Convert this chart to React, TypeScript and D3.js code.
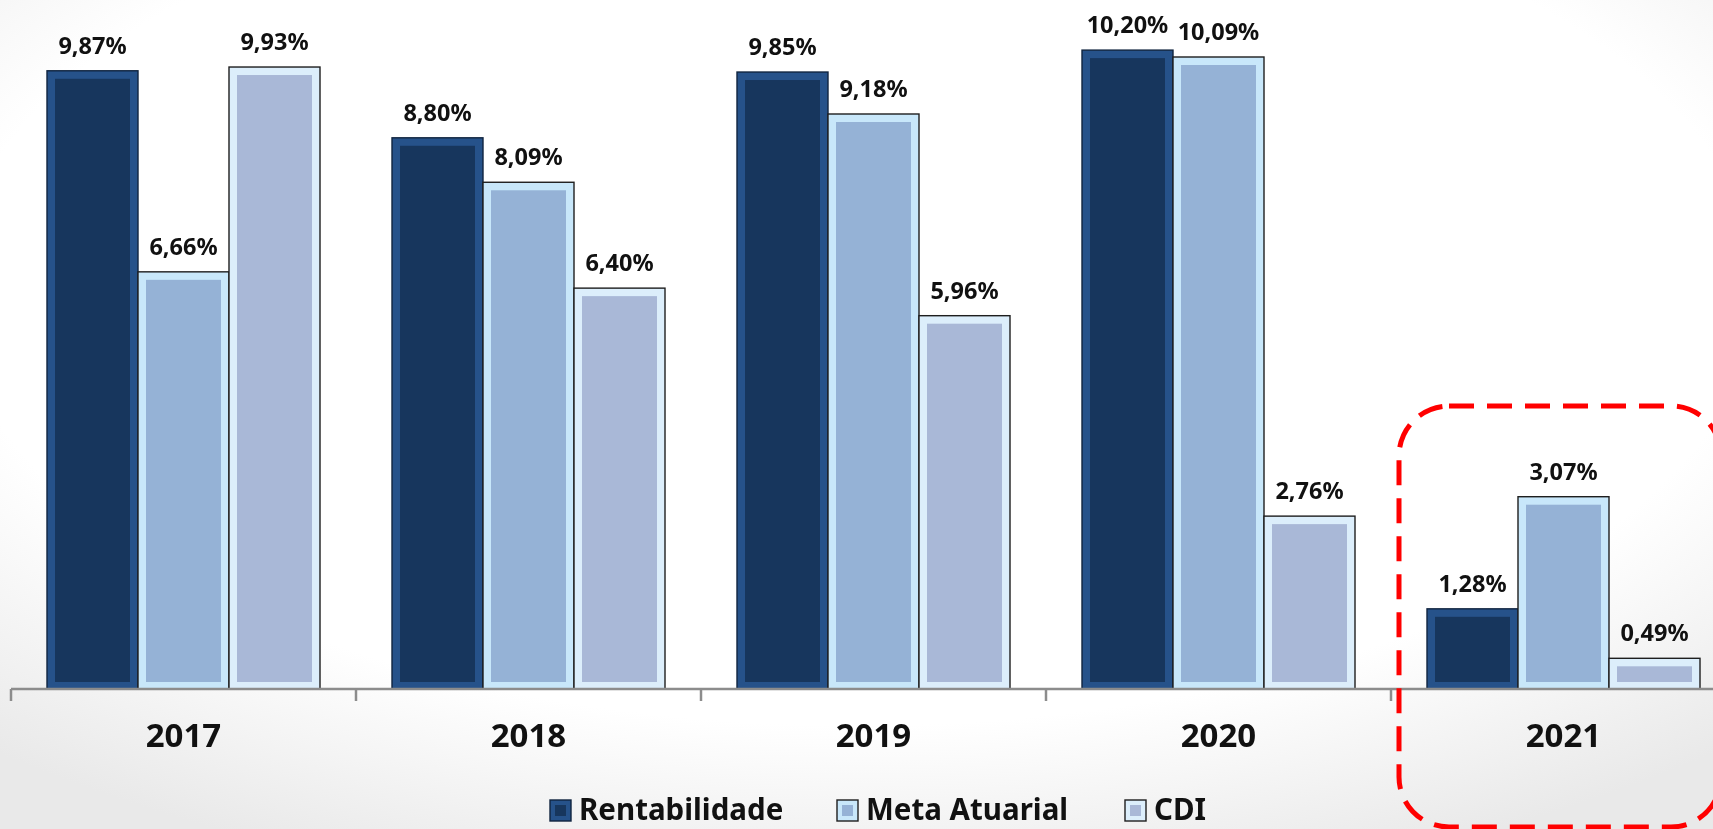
import React from "react";
import * as d3 from "d3";

// dados (%)
const years = ["2017", "2018", "2019", "2020", "2021"];
const seriesNames = ["Rentabilidade", "Meta Atuarial", "CDI"];
const rentabilidade = [9.87, 8.8, 9.85, 10.2, 1.28];
const metaAtuarial = [6.66, 8.09, 9.18, 10.09, 3.07];
const cdi = [9.93, 6.4, 5.96, 2.76, 0.49];

const seriesValues = [rentabilidade, metaAtuarial, cdi];

// cores: borda chanfrada + miolo
const bevelColors = ["#26528A", "#C8E7FA", "#DCEEFB"];
const innerColors = ["#17365D", "#95B2D6", "#A9B8D7"];
const edgeColors = ["#10243f", "#1e1e1e", "#1e1e1e"];

const W = 1713;
const H = 829;
const font = "'Noto Sans', 'Open Sans', sans-serif";

const fmt = (v: number) => d3.format(".2f")(v).replace(".", ",") + "%";

function BevelRect({ x, y, w, h, i, inset = 8 }: any) {
  const ins = Math.min(inset, w / 2, h / 2);
  return (
    <g>
      <rect x={x} y={y} width={w} height={h} fill={bevelColors[i]} stroke={edgeColors[i]} strokeWidth={1.4} />
      <rect
        x={x + ins}
        y={y + ins}
        width={Math.max(0, w - 2 * ins)}
        height={Math.max(0, h - ins - Math.min(ins, 7))}
        fill={innerColors[i]}
      />
    </g>
  );
}

export default function App() {
  const bandW = 345;
  const x0 = d3
    .scaleBand<string>()
    .domain(years)
    .range([11, 11 + bandW * years.length])
    .padding(0);
  const x1 = d3.scaleBand<string>().domain(seriesNames).range([36, 36 + 273]).padding(0);
  const y = d3.scaleLinear().domain([0, 11]).range([689, 0]);
  const base = y(0);

  const ticks = years.map((yr) => x0(yr) as number);

  return (
    <div style={{ position: "fixed", left: 0, top: 0, width: W, height: H, overflow: "hidden" }}>
      <svg width={W} height={H} style={{ display: "block", fontFamily: font }}>
        <defs>
          <radialGradient id="bg" cx="50%" cy="35%" r="75%">
            <stop offset="0.7" stopColor="#ffffff" />
            <stop offset="1" stopColor="#e9e9e9" />
          </radialGradient>
        </defs>
        <rect width={W} height={H} fill="url(#bg)" />

        {/* barras */}
        {years.map((yr, gi) => (
          <g key={yr} transform={`translate(${x0(yr)},0)`}>
            {seriesNames.map((s, si) => {
              const v = seriesValues[si][gi];
              const bx = x1(s) as number;
              const bw = x1.bandwidth();
              return (
                <g key={s}>
                  <BevelRect x={bx} y={y(v)} w={bw} h={base - y(v)} i={si} />
                  <text
                    x={bx + bw / 2}
                    y={y(v) - 17}
                    textAnchor="middle"
                    fontSize={23.5}
                    fontWeight="bold"
                    fill="#111"
                  >
                    {fmt(v)}
                  </text>
                </g>
              );
            })}
            <text
              x={x0.bandwidth() / 2}
              y={747}
              textAnchor="middle"
              fontSize={33}
              fontWeight="bold"
              fill="#111"
            >
              {yr}
            </text>
          </g>
        ))}

        {/* eixo */}
        <line x1={11} x2={W} y1={base} y2={base} stroke="#8c8c8c" strokeWidth={2.5} />
        {ticks.map((t, i) => (
          <line key={i} x1={t} x2={t} y1={base} y2={base + 12} stroke="#8c8c8c" strokeWidth={2.5} />
        ))}

        {/* legenda */}
        {seriesNames.map((s, i) => {
          const lx = [550, 837, 1125][i];
          return (
            <g key={s}>
              <BevelRect x={lx} y={800} w={21} h={21} i={i} inset={5} />
              <text x={lx + 29} y={820} fontSize={29.5} fontWeight="bold" fill="#111">
                {s}
              </text>
            </g>
          );
        })}

        {/* destaque 2021 */}
        <rect
          x={1399}
          y={406}
          width={322}
          height={421}
          rx={50}
          ry={50}
          fill="none"
          stroke="#ff0000"
          strokeWidth={5}
          strokeDasharray="25 13"
        />
      </svg>
    </div>
  );
}
